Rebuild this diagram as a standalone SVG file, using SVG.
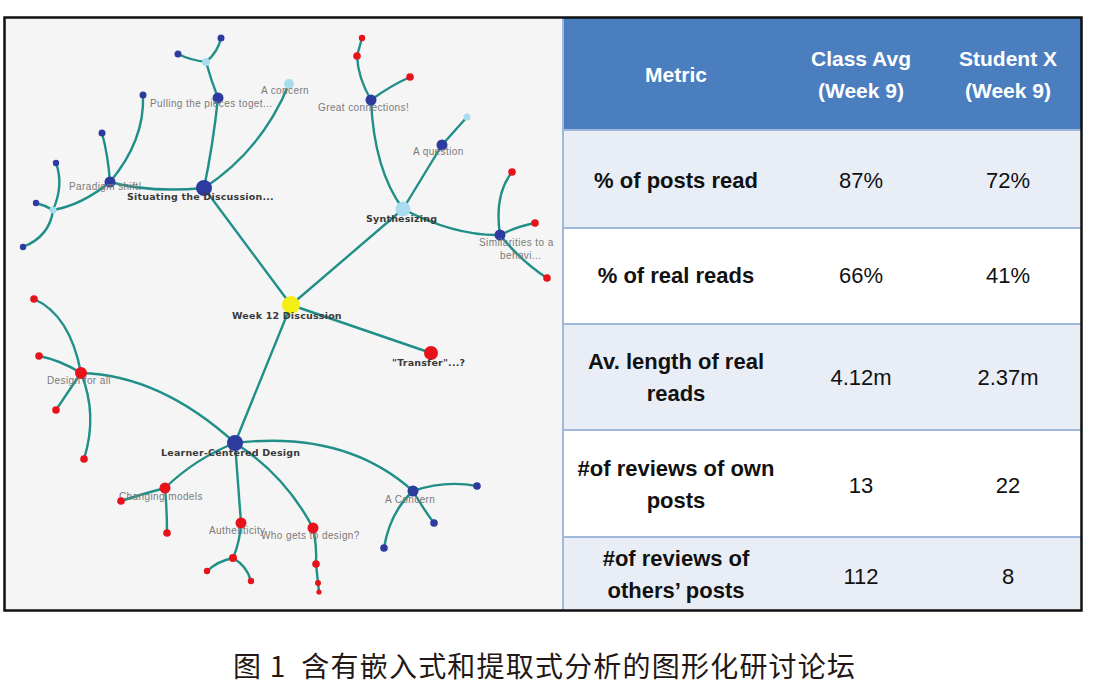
<svg xmlns="http://www.w3.org/2000/svg" width="1098" height="687" viewBox="0 0 1098 687">
<style>
.e{fill:none;stroke:#1f8f88;stroke-width:2.4;stroke-linecap:round}
.db{fill:#2d3a9e}
.rd{fill:#e8121b}
.lb{fill:#a9dcef}
.yl{fill:#f3ee14}
.lg{font-family:"Liberation Sans",Arial,sans-serif;font-size:10px;fill:#7a7a7a;letter-spacing:0.4px}
.lk{font-family:"DejaVu Sans",sans-serif;font-size:9.5px;fill:#3a3a3a;font-weight:bold;letter-spacing:0.2px}
.th{font-family:"Liberation Sans",Arial,sans-serif;font-size:21px;font-weight:bold;fill:#ffffff;text-anchor:middle}
.tm{font-family:"Liberation Sans",Arial,sans-serif;font-size:22px;font-weight:bold;fill:#111;text-anchor:middle}
.tv{font-family:"Liberation Sans",Arial,sans-serif;font-size:22px;fill:#111;text-anchor:middle}
.rl{fill:#e9eef6}
.rw{fill:#ffffff}
.sep{stroke:#9fb8dc;stroke-width:2}
</style>
<rect x="0" y="0" width="1098" height="687" fill="#ffffff"/>
<rect x="5" y="18" width="557" height="592" fill="#f5f5f5"/>
<g id="table">
<rect x="562" y="18" width="519" height="112" fill="#4a7ebf"/>
<rect class="rl" x="562" y="130" width="519" height="98"/>
<rect class="rw" x="562" y="228" width="519" height="96"/>
<rect class="rl" x="562" y="324" width="519" height="106"/>
<rect class="rw" x="562" y="430" width="519" height="107"/>
<rect class="rl" x="562" y="537" width="519" height="73"/>
<line class="sep" x1="562" y1="130" x2="1081" y2="130"/>
<line class="sep" x1="562" y1="228" x2="1081" y2="228"/>
<line class="sep" x1="562" y1="324" x2="1081" y2="324"/>
<line class="sep" x1="562" y1="430" x2="1081" y2="430"/>
<line class="sep" x1="562" y1="537" x2="1081" y2="537"/>
<line class="sep" x1="563" y1="18" x2="563" y2="610"/>
<text class="th" x="676" y="82">Metric</text>
<text class="th" x="861" y="66">Class Avg</text>
<text class="th" x="861" y="98">(Week 9)</text>
<text class="th" x="1008" y="66">Student X</text>
<text class="th" x="1008" y="98">(Week 9)</text>
<text class="tm" x="676" y="188">% of posts read</text>
<text class="tv" x="861" y="188">87%</text>
<text class="tv" x="1008" y="188">72%</text>
<text class="tm" x="676" y="283">% of real reads</text>
<text class="tv" x="861" y="283">66%</text>
<text class="tv" x="1008" y="283">41%</text>
<text class="tm" x="676" y="369">Av. length of real</text>
<text class="tm" x="676" y="401">reads</text>
<text class="tv" x="861" y="385">4.12m</text>
<text class="tv" x="1008" y="385">2.37m</text>
<text class="tm" x="676" y="476">#of reviews of own</text>
<text class="tm" x="676" y="508">posts</text>
<text class="tv" x="861" y="493">13</text>
<text class="tv" x="1008" y="493">22</text>
<text class="tm" x="676" y="566">#of reviews of</text>
<text class="tm" x="676" y="598">others’ posts</text>
<text class="tv" x="861" y="584">112</text>
<text class="tv" x="1008" y="584">8</text>
</g>
<rect x="4.5" y="17.5" width="1077" height="593" fill="none" stroke="#111" stroke-width="2.5"/>
<g id="connectors">
<path class="e" d="M291,305 L204,188"/>
<path class="e" d="M291,305 L403,209"/>
<path class="e" d="M291,305 L431,353"/>
<path class="e" d="M291,305 L235,443"/>
<path class="e" d="M204,188 Q213,145 218,98"/>
<path class="e" d="M204,188 Q262,150 289,84"/>
<path class="e" d="M204,188 Q150,193 110,182"/>
<path class="e" d="M218,98 Q211,80 206,62"/>
<path class="e" d="M206,62 Q218,52 221,38"/>
<path class="e" d="M206,62 Q190,60 178,54"/>
<path class="e" d="M110,182 Q145,140 143,95"/>
<path class="e" d="M110,182 Q108,155 102,133"/>
<path class="e" d="M110,182 Q82,205 53,210"/>
<path class="e" d="M53,210 Q64,185 56,163"/>
<path class="e" d="M53,210 Q44,205 36,203"/>
<path class="e" d="M53,210 Q50,236 23,247"/>
<path class="e" d="M403,209 Q374,170 371,100"/>
<path class="e" d="M403,209 L442,145"/>
<path class="e" d="M442,145 L467,117"/>
<path class="e" d="M403,209 Q455,236 500,235"/>
<path class="e" d="M371,100 Q358,78 357,56"/>
<path class="e" d="M357,56 L362,38"/>
<path class="e" d="M371,100 Q390,86 410,77"/>
<path class="e" d="M500,235 Q494,195 512,172"/>
<path class="e" d="M500,235 Q518,226 535,223"/>
<path class="e" d="M500,235 Q522,262 547,278"/>
<path class="e" d="M235,443 Q160,375 81,373"/>
<path class="e" d="M235,443 Q196,458 165,488"/>
<path class="e" d="M235,443 Q238,485 241,523"/>
<path class="e" d="M235,443 Q285,475 313,528"/>
<path class="e" d="M235,443 Q345,430 413,491"/>
<path class="e" d="M81,373 Q70,315 34,299"/>
<path class="e" d="M81,373 Q60,360 39,356"/>
<path class="e" d="M81,373 Q66,395 56,410"/>
<path class="e" d="M81,373 Q98,415 84,459"/>
<path class="e" d="M165,488 Q142,494 121,501"/>
<path class="e" d="M165,488 Q167,510 167,533"/>
<path class="e" d="M241,523 Q240,542 233,558"/>
<path class="e" d="M233,558 Q218,561 207,571"/>
<path class="e" d="M233,558 Q247,566 251,581"/>
<path class="e" d="M313,528 Q317,546 316,564"/>
<path class="e" d="M316,564 L319,592"/>
<path class="e" d="M413,491 Q445,480 477,486"/>
<path class="e" d="M413,491 Q424,510 434,523"/>
<path class="e" d="M413,491 Q390,512 384,548"/>
</g>
<g id="n-week12"><circle class="yl" cx="291" cy="305" r="9"/><text class="lk" x="232" y="319">Week 12 Discussion</text></g>
<g id="n-situating"><circle class="db" cx="204" cy="188" r="8"/><text class="lk" x="127" y="200">Situating the Discussion...</text></g>
<g id="n-pulling"><circle class="db" cx="218" cy="98" r="5.5"/><text class="lg" x="150" y="107">Pulling the pieces toget...</text></g>
<g id="n-pulling-lb"><circle class="lb" cx="206" cy="62" r="4"/></g>
<g id="n-l1"><circle class="db" cx="221" cy="38" r="3.5"/></g>
<g id="n-l2"><circle class="db" cx="178" cy="54" r="3.5"/></g>
<g id="n-concern1"><circle class="lb" cx="289" cy="84" r="5"/><text class="lg" x="261" y="94">A concern</text></g>
<g id="n-paradigm"><circle class="db" cx="110" cy="182" r="5.5"/><text class="lg" x="69" y="190">Paradigm shift!</text></g>
<g id="n-l3"><circle class="db" cx="143" cy="95" r="3.5"/></g>
<g id="n-l4"><circle class="db" cx="102" cy="133" r="3.5"/></g>
<g id="n-par-lb"><circle class="lb" cx="53" cy="210" r="3.5"/></g>
<g id="n-l5"><circle class="db" cx="56" cy="163" r="3.2"/></g>
<g id="n-l6"><circle class="db" cx="36" cy="203" r="3.2"/></g>
<g id="n-l7"><circle class="db" cx="23" cy="247" r="3.2"/></g>
<g id="n-synth"><circle class="lb" cx="403" cy="209" r="7.5"/><text class="lk" x="366" y="222">Synthesizing</text></g>
<g id="n-great"><circle class="db" cx="371" cy="100" r="5.5"/><text class="lg" x="318" y="111">Great connections!</text></g>
<g id="n-r1"><circle class="rd" cx="357" cy="56" r="3.8"/></g>
<g id="n-r2"><circle class="rd" cx="362" cy="38" r="3.2"/></g>
<g id="n-r3"><circle class="rd" cx="410" cy="77" r="3.8"/></g>
<g id="n-question"><circle class="db" cx="442" cy="145" r="5.5"/><text class="lg" x="413" y="155">A question</text></g>
<g id="n-q-lb"><circle class="lb" cx="467" cy="117" r="3.5"/></g>
<g id="n-similar"><circle class="db" cx="500" cy="235" r="5.5"/><text class="lg" x="479" y="246">Similarities to a</text><text class="lg" x="500" y="259">behavi...</text></g>
<g id="n-r4"><circle class="rd" cx="512" cy="172" r="3.8"/></g>
<g id="n-r5"><circle class="rd" cx="535" cy="223" r="3.8"/></g>
<g id="n-r6"><circle class="rd" cx="547" cy="278" r="3.8"/></g>
<g id="n-transfer"><circle class="rd" cx="431" cy="353" r="7"/><text class="lk" x="392" y="366">"Transfer"...?</text></g>
<g id="n-learner"><circle class="db" cx="235" cy="443" r="8"/><text class="lk" x="161" y="456">Learner-Centered Design</text></g>
<g id="n-design"><circle class="rd" cx="81" cy="373" r="6"/><text class="lg" x="47" y="384">Design for all</text></g>
<g id="n-r7"><circle class="rd" cx="34" cy="299" r="3.8"/></g>
<g id="n-r8"><circle class="rd" cx="39" cy="356" r="3.8"/></g>
<g id="n-r9"><circle class="rd" cx="56" cy="410" r="3.8"/></g>
<g id="n-r10"><circle class="rd" cx="84" cy="459" r="3.8"/></g>
<g id="n-changing"><circle class="rd" cx="165" cy="488" r="5.5"/><text class="lg" x="119" y="500">Changing models</text></g>
<g id="n-r11"><circle class="rd" cx="121" cy="501" r="3.8"/></g>
<g id="n-r12"><circle class="rd" cx="167" cy="533" r="3.8"/></g>
<g id="n-authentic"><circle class="rd" cx="241" cy="523" r="5.5"/><text class="lg" x="209" y="534">Authenticity</text></g>
<g id="n-r13"><circle class="rd" cx="233" cy="558" r="4"/></g>
<g id="n-r14"><circle class="rd" cx="207" cy="571" r="3.2"/></g>
<g id="n-r15"><circle class="rd" cx="251" cy="581" r="3.2"/></g>
<g id="n-whogets"><circle class="rd" cx="313" cy="528" r="5.5"/><text class="lg" x="261" y="539">Who gets to design?</text></g>
<g id="n-r16"><circle class="rd" cx="316" cy="564" r="3.8"/></g>
<g id="n-r17"><circle class="rd" cx="318" cy="583" r="3"/></g>
<g id="n-r18"><circle class="rd" cx="319" cy="592" r="2.6"/></g>
<g id="n-concern2"><circle class="db" cx="413" cy="491" r="5.5"/><text class="lg" x="385" y="503">A Concern</text></g>
<g id="n-b1"><circle class="db" cx="477" cy="486" r="3.8"/></g>
<g id="n-b2"><circle class="db" cx="434" cy="523" r="3.8"/></g>
<g id="n-b3"><circle class="db" cx="384" cy="548" r="3.8"/></g>
<text x="233" y="677" font-family="'Noto Sans CJK SC',sans-serif" font-size="28" fill="#231815" xml:space="preserve" textLength="622" lengthAdjust="spacing">图 1  含有嵌入式和提取式分析的图形化研讨论坛</text>
</svg>
